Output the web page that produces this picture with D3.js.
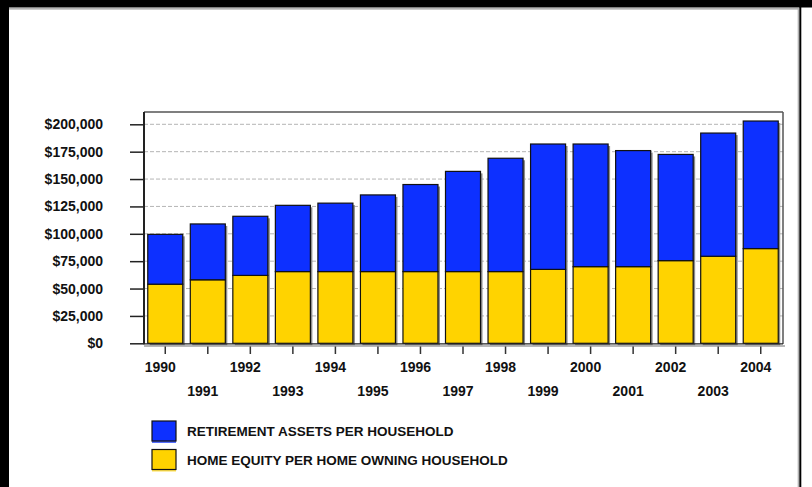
<!DOCTYPE html>
<html>
<head>
<meta charset="utf-8">
<script src="https://cdn.jsdelivr.net/npm/d3@7"></script>
<style>
  html, body { margin: 0; padding: 0; background: #ffffff; }
  svg { display: block; }
  text { font-family: "Liberation Sans", Arial, sans-serif; font-weight: bold; fill: #111; }
</style>
</head>
<body>
<svg id="chart" width="812" height="487"></svg>
<script>
// Years shown on the category axis
const years = ["1990","1991","1992","1993","1994","1995","1996","1997",
               "1998","1999","2000","2001","2002","2003","2004"];

// Home equity per home-owning household (bottom segment), dollars
const homeEquity = [54000, 58000, 62000, 65500, 65500, 65500, 65500, 65500,
                    65500, 67500, 70000, 70000, 75500, 79500, 86500];

// Retirement assets per household (top segment), dollars
const retirement = [45500, 51000, 54000, 60500, 62500, 70000, 79500, 91500,
                    103500, 114500, 112000, 106000, 97000, 112500, 116500];

// Value-axis ticks
const yTicks = [0, 25000, 50000, 75000, 100000, 125000, 150000, 175000, 200000];

const seriesNames = ["RETIREMENT ASSETS PER HOUSEHOLD", "HOME EQUITY PER HOME OWNING HOUSEHOLD"];
const BLUE = "#0d30ff", YELLOW = "#ffd300";

const svg = d3.select("#chart");

// Page frame: black band on top and left, rule at right
svg.append("rect").attr("x", 0).attr("y", 0).attr("width", 812).attr("height", 487).attr("fill", "#fff");
svg.append("rect").attr("x", 0).attr("y", 0).attr("width", 812).attr("height", 7.5).attr("fill", "#000");
svg.append("rect").attr("x", 0).attr("y", 0).attr("width", 9).attr("height", 487).attr("fill", "#000");
svg.append("line").attr("x1", 9).attr("x2", 798).attr("y1", 8.8).attr("y2", 8.8).attr("stroke", "#999").attr("stroke-width", 1.2);
svg.append("line").attr("x1", 798.3).attr("x2", 798.3).attr("y1", 8).attr("y2", 487).attr("stroke", "#aaa").attr("stroke-width", 1.2);
svg.append("rect").attr("x", 799.3).attr("y", 7).attr("width", 2).attr("height", 480).attr("fill", "#000");

// Plot area
const plot = { left: 144, right: 783, top: 112, bottom: 344 };

const x = d3.scaleBand().domain(years).range([plot.left, 782]).paddingInner(0.177).paddingOuter(0.0885);
const y = d3.scaleLinear().domain([0, 200000]).range([343.3, 124.3]);

// Dashed gridlines
svg.append("g").selectAll("line").data(yTicks.filter(d => d > 0)).join("line")
  .attr("x1", plot.left).attr("x2", plot.right)
  .attr("y1", d => y(d)).attr("y2", d => y(d))
  .attr("stroke", "#b5b5b5").attr("stroke-width", 1).attr("stroke-dasharray", "4,2");

// Frame shadow along bottom and right
svg.append("line").attr("x1", plot.left).attr("x2", plot.right + 2)
  .attr("y1", plot.bottom + 2).attr("y2", plot.bottom + 2).attr("stroke", "#b8b8b8").attr("stroke-width", 2);

// Stacked bars
const stackData = years.map((yr, i) => ({ year: yr, home: homeEquity[i], ret: retirement[i] }));
const stack = d3.stack().keys(["home", "ret"])(stackData);
const fills = { home: YELLOW, ret: BLUE };

const barG = svg.append("g");
// drop shadows
barG.selectAll("rect.sh").data(stackData).join("rect").attr("class", "sh")
  .attr("x", d => x(d.year) + 2)
  .attr("y", d => y(d.home + d.ret) + 2)
  .attr("width", x.bandwidth())
  .attr("height", d => y(0) - y(d.home + d.ret))
  .attr("fill", "#8c8c8c");

stack.forEach(layer => {
  barG.append("g").selectAll("rect").data(layer).join("rect")
    .attr("x", d => x(d.data.year))
    .attr("y", d => y(d[1]))
    .attr("width", x.bandwidth())
    .attr("height", d => y(d[0]) - y(d[1]))
    .attr("fill", fills[layer.key])
    .attr("stroke", "#111").attr("stroke-width", 1.2);
});

// Plot frame
svg.append("line").attr("x1", plot.left).attr("x2", plot.right).attr("y1", plot.top).attr("y2", plot.top)
  .attr("stroke", "#555").attr("stroke-width", 1.5);
svg.append("line").attr("x1", plot.right).attr("x2", plot.right).attr("y1", plot.top).attr("y2", plot.bottom)
  .attr("stroke", "#555").attr("stroke-width", 1.5);
svg.append("line").attr("x1", plot.left).attr("x2", plot.right).attr("y1", y(0) + 0.5).attr("y2", y(0) + 0.5)
  .attr("stroke", "#222").attr("stroke-width", 1.2);
svg.append("line").attr("x1", plot.left).attr("x2", plot.left).attr("y1", plot.top).attr("y2", y(0) + 1)
  .attr("stroke", "#222").attr("stroke-width", 2);

// Value axis
const yAxis = d3.axisLeft(y).tickValues(yTicks).tickSize(14).tickPadding(27)
  .tickFormat(d => "$" + d3.format(",")(d));
const yg = svg.append("g").attr("transform", `translate(${plot.left},0)`).call(yAxis);
yg.select(".domain").remove();
yg.selectAll(".tick line").attr("stroke", "#222").attr("stroke-width", 1.5);
yg.selectAll(".tick text").attr("font-size", 14).attr("fill", "#111")
  .attr("font-family", "Liberation Sans, Arial, sans-serif").attr("font-weight", "bold");

// Category axis: ticks below, labels staggered over two rows
const xAxis = d3.axisBottom(x).tickSize(0).tickFormat("");
const xg = svg.append("g").attr("transform", `translate(0,${plot.bottom})`).call(xAxis);
xg.select(".domain").remove();
xg.selectAll(".tick").append("line").attr("y1", 2.5).attr("y2", 10).attr("stroke", "#333").attr("stroke-width", 1.5);
xg.selectAll(".tick").append("text")
  .attr("x", -5)
  .attr("y", (d, i) => i % 2 === 0 ? 28 : 52)
  .attr("text-anchor", "middle")
  .attr("font-size", 14).attr("fill", "#111")
  .text(d => d);

// Legend
const legend = svg.append("g");
const legendColors = [BLUE, YELLOW];
const legendRows = [421, 449.5];
seriesNames.forEach((name, i) => {
  const g = legend.append("g").attr("transform", `translate(152,${legendRows[i]})`);
  g.append("rect").attr("x", 0).attr("y", 20).attr("width", 24).attr("height", 2)
    .attr("fill", legendColors[i]).attr("opacity", 0.7);
  g.append("rect").attr("x", 0).attr("y", 0).attr("width", 24).attr("height", 20)
    .attr("fill", legendColors[i]).attr("stroke", "#111").attr("stroke-width", 1.2);
  g.append("text").attr("x", 35).attr("y", 15).attr("font-size", 13.5).text(name);
});
</script>
</body>
</html>
